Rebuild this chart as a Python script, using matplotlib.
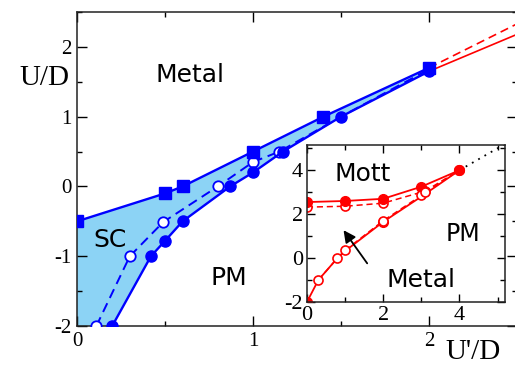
import matplotlib

matplotlib.use("Agg")
import matplotlib.pyplot as plt
from matplotlib.ticker import MultipleLocator

plt.rcParams["axes.unicode_minus"] = False

# main panel: superconducting region boundaries
sq_x = [0.0, 0.5, 0.6, 1.0, 1.4, 2.0]
sq_y = [-0.5, -0.1, 0.0, 0.5, 1.0, 1.7]
fc_x = [0.2, 0.42, 0.5, 0.6, 0.87, 1.0, 1.17, 1.5, 2.0]
fc_y = [-2.0, -1.0, -0.78, -0.5, 0.0, 0.2, 0.5, 1.0, 1.65]
oc_x = [0.11, 0.3, 0.49, 0.8, 1.0, 1.15, 1.5, 2.0]
oc_y = [-2.0, -1.0, -0.51, 0.0, 0.35, 0.5, 1.0, 1.68]
oc_marked = 6
# red extrapolations beyond U'/D = 2
red_solid_x = [2.0, 2.5]
red_solid_y = [1.65, 2.18]
red_dash_x = [2.0, 2.5]
red_dash_y = [1.7, 2.33]

# inset: Mott transition lines
top_solid_x = [0.0, 1.0, 2.0, 3.0, 4.0]
top_solid_y = [2.55, 2.6, 2.7, 3.25, 4.0]
top_dash_x = [0.0, 1.0, 2.0, 3.1, 4.0]
top_dash_y = [2.32, 2.36, 2.5, 3.05, 4.0]
low_solid_x = [0.0, 0.3, 0.8, 1.0, 2.0, 3.0, 4.0]
low_solid_y = [-2.0, -1.0, 0.0, 0.32, 1.65, 2.8, 4.0]
low_dash_x = [0.3, 0.8, 1.0, 2.0, 3.0, 3.1, 4.0]
low_dash_y = [-1.0, 0.0, 0.35, 1.7, 2.85, 3.0, 4.0]
diag_x = [4.0, 5.2]
diag_y = [4.0, 5.2]

SERIF = "Liberation Serif"
SANS = "DejaVu Sans"
BLUE = "#0000ff"
RED = "#ff0000"
FILL = "#8cd3f5"

fig = plt.figure(figsize=(5.15, 3.69), dpi=100)
ax = fig.add_axes([0.1495, 0.1165, 0.8545, 0.851])

poly_x = sq_x + fc_x[::-1] + [0.0]
poly_y = sq_y + fc_y[::-1] + [-2.0]
ax.fill(poly_x, poly_y, color=FILL, lw=0, zorder=1)

ax.plot(red_solid_x, red_solid_y, color=RED, lw=1.2, zorder=2)
ax.plot(red_dash_x, red_dash_y, color=RED, lw=1.2, ls=(0, (5, 3)), zorder=2)
ax.plot(oc_x, oc_y, color=BLUE, lw=1.4, ls=(0, (5, 3)), marker="o", ms=7.5,
        mfc="white", mec=BLUE, mew=1.3, markevery=list(range(oc_marked)), zorder=3)
ax.plot(fc_x, fc_y, color=BLUE, lw=1.7, marker="o", ms=8, zorder=4)
ax.plot(sq_x, sq_y, color=BLUE, lw=1.7, marker="s", ms=8, zorder=4)

ax.set_xlim(0, 2.5)
ax.set_ylim(-2, 2.5)
ax.xaxis.set_major_locator(MultipleLocator(1))
ax.xaxis.set_minor_locator(MultipleLocator(0.5))
ax.yaxis.set_major_locator(MultipleLocator(1))
ax.yaxis.set_minor_locator(MultipleLocator(0.5))
ax.tick_params(which="both", direction="in", top=True, right=True, width=1.0)
ax.tick_params(which="major", length=7, pad=4, labelsize=15)
ax.tick_params(which="minor", length=3.5)
for lab in ax.get_xticklabels() + ax.get_yticklabels():
    lab.set_fontfamily(SERIF)
for sp in ax.spines.values():
    sp.set_linewidth(1.1)
    sp.set_color("#222222")

ax.text(0.64, 1.59, "Metal", family=SANS, fontsize=18, ha="center", va="center")
ax.text(0.19, -0.77, "SC", family=SANS, fontsize=18, ha="center", va="center")
ax.text(0.86, -1.31, "PM", family=SANS, fontsize=18, ha="center", va="center")

fig.text(0.087, 0.789, "U/D", family=SERIF, fontsize=21, ha="center", va="center")
fig.text(0.918, 0.046, "U'/D", family=SERIF, fontsize=21, ha="center", va="center")

# inset
ins = fig.add_axes([0.596, 0.1816, 0.385, 0.4255])
ins.plot(diag_x, diag_y, color="black", lw=1.3, ls=(0, (1, 3)))
ins.plot(top_dash_x, top_dash_y, color=RED, lw=1.1, ls=(0, (4, 2.5)), marker="o",
         ms=6.5, mfc="white", mec=RED, mew=1.2, markevery=[0, 1, 2, 3])
ins.plot(top_solid_x, top_solid_y, color=RED, lw=1.3, marker="o", ms=7)
ins.plot(low_solid_x, low_solid_y, color=RED, lw=1.3, marker="o", ms=7,
         markevery=[0, 4, 6])
ins.plot(low_dash_x, low_dash_y, color=RED, lw=1.1, ls=(0, (4, 2.5)), marker="o",
         ms=6.5, mfc="white", mec=RED, mew=1.2, markevery=[0, 1, 2, 3, 4, 5])
ins.annotate("", xy=(0.96, 1.27), xytext=(1.58, -0.24),
             arrowprops=dict(arrowstyle="-|>", color="black", lw=1.3,
                             mutation_scale=18, shrinkA=0, shrinkB=0))

ins.set_xlim(0, 5.2)
ins.set_ylim(-2, 5.15)
ins.xaxis.set_major_locator(MultipleLocator(2))
ins.xaxis.set_minor_locator(MultipleLocator(1))
ins.yaxis.set_major_locator(MultipleLocator(2))
ins.yaxis.set_minor_locator(MultipleLocator(1))
ins.tick_params(which="both", direction="in", top=True, right=True, width=1.0)
ins.tick_params(which="major", length=6, pad=3, labelsize=16)
ins.tick_params(which="minor", length=3.5)
for lab in ins.get_xticklabels() + ins.get_yticklabels():
    lab.set_fontfamily(SERIF)
for sp in ins.spines.values():
    sp.set_linewidth(1.1)
    sp.set_color("#222222")

ins.text(1.45, 3.85, "Mott", family=SANS, fontsize=18, ha="center", va="center")
ins.text(4.1, 1.1, "PM", family=SANS, fontsize=17, ha="center", va="center")
ins.text(3.0, -1.0, "Metal", family=SANS, fontsize=18, ha="center", va="center")

fig.savefig("out.png", dpi=100)
